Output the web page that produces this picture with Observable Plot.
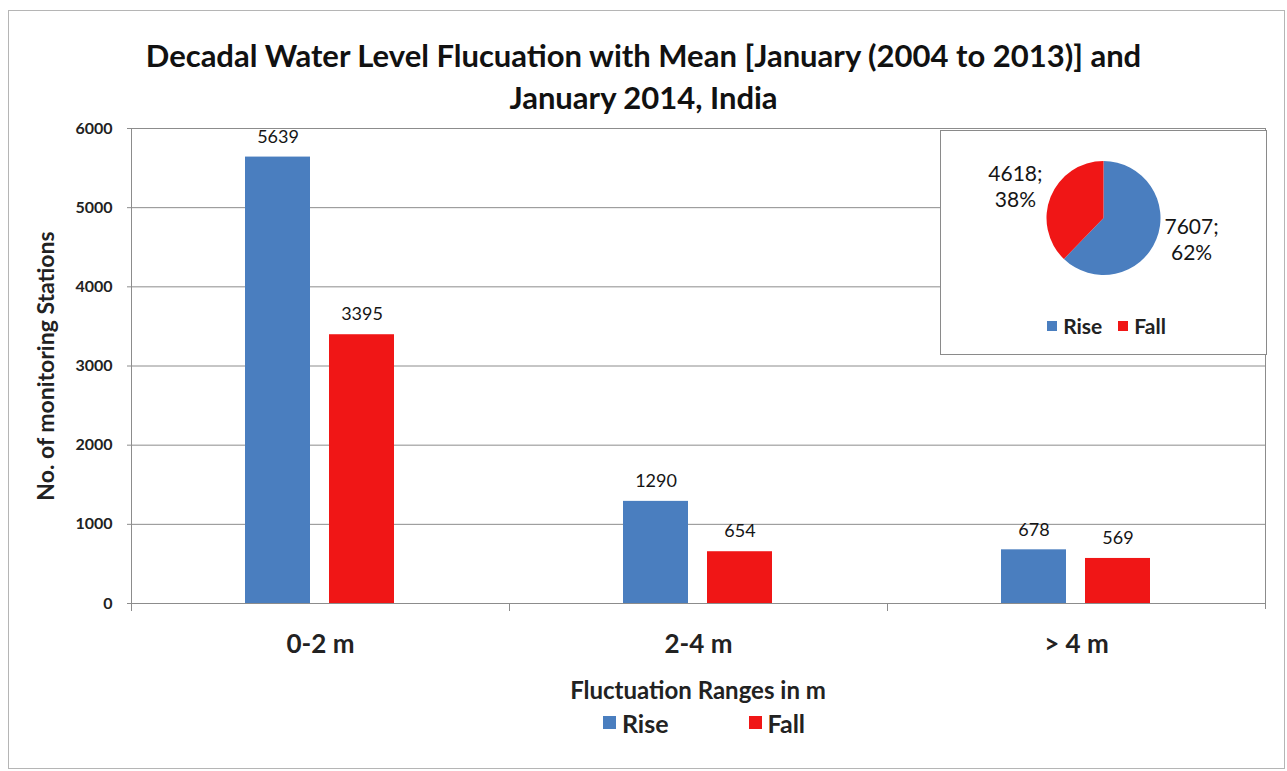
<!DOCTYPE html>
<html><head><meta charset="utf-8">
<script src="https://cdn.jsdelivr.net/npm/d3@7"></script>
<script src="https://cdn.jsdelivr.net/npm/@observablehq/plot@0.6"></script>
<style>
body{margin:0;background:#fff;font-family:Lato, sans-serif;}
#frame{position:absolute;left:8px;top:10px;width:1277px;height:759px;border:1px solid #b5b5b5;box-sizing:border-box;}
#title{position:absolute;left:0;width:1287px;top:34px;text-align:center;font-weight:bold;font-size:31px;line-height:42px;color:#111;}
#chart{position:absolute;left:0;top:110px;}
#xlabel{position:absolute;left:130px;width:1136px;top:675px;text-align:center;font-size:24px;font-weight:bold;color:#222;}
#legend{position:absolute;left:136px;width:1136px;top:706px;}
#inset{position:absolute;left:940px;top:130px;width:327px;height:225px;border:1px solid #8a8a8a;background:#fff;box-sizing:border-box;}
#pieleg{position:absolute;left:3px;width:325px;top:178px;}
.mleg-swatches-wrap,.pleg-swatches-wrap{display:flex !important;justify-content:center;font-family:Lato, sans-serif !important;color:#222;font-weight:bold;margin:0 !important;}
.mleg-swatches-wrap{font-size:25px !important;}
.pleg-swatches-wrap{font-size:21px !important;}
.mleg-swatch{margin-right:80px !important;}
.mleg-swatch:last-child{margin-right:0 !important;}
.pleg-swatch{margin-right:16px !important;}
.pleg-swatch:last-child{margin-right:0 !important;}
.mleg-swatch > svg,.pleg-swatch > svg{margin-right:6px !important;}
</style>
</head><body>
<div id="frame"></div>
<div id="title">Decadal Water Level Flucuation with Mean [January (2004 to 2013)] and<br>January 2014, India</div>
<div id="chart"></div>
<div id="xlabel">Fluctuation Ranges in m</div>
<div id="legend"></div>
<div id="inset"><div id="pie"></div><div id="pieleg"></div></div>
<script>
const categories = ["0-2 m", "2-4 m", "> 4 m"];
const series = ["Rise", "Fall"];
const riseValues = [5639, 1290, 678];
const fallValues = [3395, 654, 569];
const yTicks = [0, 1000, 2000, 3000, 4000, 5000, 6000];
const pieValues = [7607, 4618]; // Rise, Fall
const colors = ["#4a7ebf", "#f01616"];

const data = categories.flatMap((c, i) => [
  {cat: c, series: "Rise", value: riseValues[i]},
  {cat: c, series: "Fall", value: fallValues[i]}
]);

const gridColor = "#8c8c8c";
const chart = Plot.plot({
  width: 1287,
  height: 560,
  marginTop: 18,
  marginLeft: 130,
  marginRight: 21,
  marginBottom: 67,
  style: {fontFamily: "Lato, sans-serif", color: "#222", background: "transparent"},
  fx: {domain: categories, padding: 0},
  x: {domain: series, paddingInner: 0.2235, paddingOuter: 1.339, axis: null},
  y: {domain: [0, 6000]},
  color: {domain: series, range: colors},
  marks: [
    Plot.gridY(yTicks, {stroke: gridColor, strokeOpacity: 1}),
    Plot.frame({anchor: "left", facetAnchor: "left", stroke: gridColor, insetBottom: -5}),
    Plot.frame({anchor: "left", stroke: gridColor, insetTop: 475, insetBottom: -7}),
    Plot.frame({anchor: "right", facetAnchor: "right", stroke: gridColor, insetBottom: -5}),
    Plot.barY(data, {fx: "cat", x: "series", y: "value", fill: "series"}),
    Plot.text(data, {fx: "cat", x: "series", y: "value", text: d => String(d.value), dy: -20, fontSize: 18, fill: "#151515"}),
    Plot.axisY({ticks: yTicks, tickFormat: d => String(d), tickSize: 4, tickPadding: 15, fontSize: 16, fontWeight: "bold", stroke: gridColor,
      label: "No. of monitoring Stations", labelArrow: "none", labelAnchor: "center", labelOffset: 94}),
    Plot.axisFx({anchor: "bottom", tickSize: 0, tickPadding: 31, fontSize: 26, fontWeight: "bold", label: null})
  ]
});
document.getElementById("chart").append(chart);

// y axis label styling
chart.querySelectorAll("text").forEach(t => {
  if (t.textContent.includes("monitoring")) {
    t.setAttribute("font-size", "23"); t.setAttribute("font-weight", "bold");
    t.textContent = "No. of monitoring Stations";
  }
});

document.getElementById("legend").append(Plot.legend({color: {domain: series, range: colors}, legend: "swatches", swatchSize: 13, className: "mleg"}));

// Pie inset
const pieData = series.map((s, i) => ({series: s, value: pieValues[i]}));
const total = d3.sum(pieValues);
const pieColor = Plot.scale({color: {domain: series, range: colors}});
const pie = Plot.plot({
  width: 325,
  height: 175,
  margin: 0,
  style: {fontFamily: "Lato, sans-serif", background: "transparent"},
  marks: [
    (index, scales, values, dims) => {
      const cx = dims.width / 2, cy = 87, r = 57;
      const g = d3.create("svg:g").attr("transform", `translate(${cx},${cy})`);
      const arcs = d3.pie().sort(null).value(d => d.value)(pieData);
      const arc = d3.arc().innerRadius(0).outerRadius(r);
      const labelArc = d3.arc().innerRadius(95).outerRadius(95);
      g.selectAll("path").data(arcs).join("path")
        .attr("d", arc).attr("fill", d => pieColor.apply(d.data.series));
      const t = g.selectAll("text").data(arcs).join("text")
        .attr("transform", d => { const [x, y] = labelArc.centroid(d); return `translate(${x},${y * 0.75})`; })
        .attr("text-anchor", "middle").attr("font-size", 21).attr("fill", "#151515");
      t.append("tspan").attr("x", 0).attr("dy", "-0.5em").text(d => `${d.data.value};`);
      t.append("tspan").attr("x", 0).attr("dy", "1.25em").text(d => `${Math.round(d.data.value / total * 100)}%`);
      return g.node();
    }
  ]
});
document.getElementById("pie").append(pie);
document.getElementById("pieleg").append(Plot.legend({color: {domain: series, range: colors}, legend: "swatches", swatchSize: 10, className: "pleg"}));
</script>
</body></html>
